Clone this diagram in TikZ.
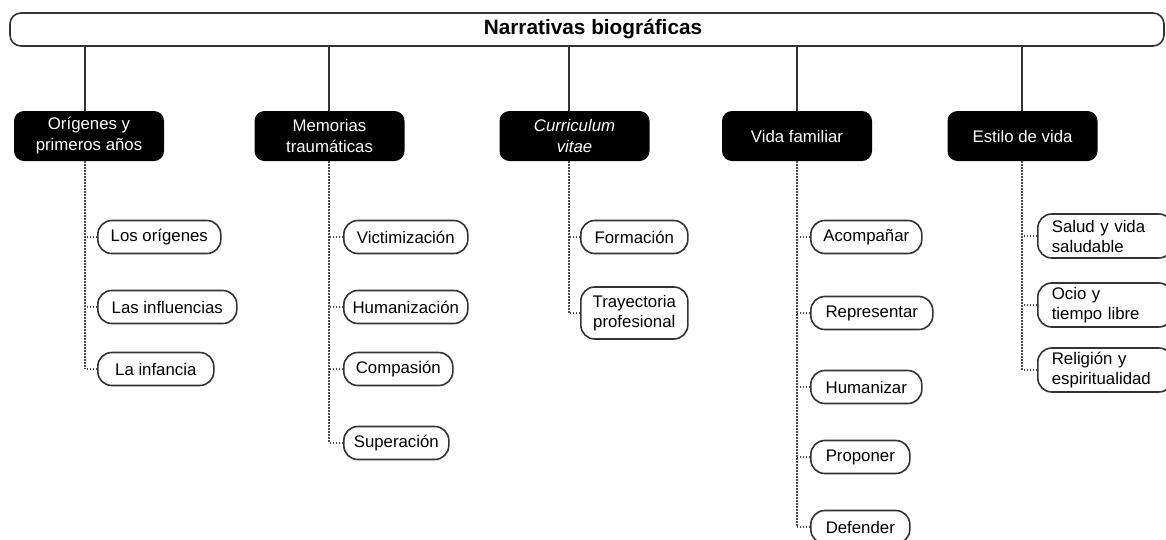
\documentclass[tikz,border=0pt]{standalone}
\usepackage{fontspec}
\setmainfont{Liberation Sans}

\begin{document}
\begin{tikzpicture}[x=1pt,y=-1pt,
  lne/.style={draw=black!80, line width=1.6pt},
  dots/.style={draw=black!70, line width=1.3pt, dash pattern=on 1.3pt off 1.7pt}]
\tikzstyle{banner}=[lne, rounded corners=11pt, minimum width=1154pt, minimum height=33pt, inner sep=0pt]
\tikzstyle{cat}=[fill=black, text=white, rounded corners=10pt, minimum width=150pt, minimum height=50pt, inner sep=2pt, align=center, font=\fontsize{16.8}{21}\selectfont]
\tikzstyle{sub}=[lne, rounded corners=14pt, align=left, anchor=west, font=\fontsize{16.8}{20}\selectfont]
\useasboundingbox (0,0) rectangle (1166,539);
\node[banner] (band) at (587,29.5){};
\node[font=\fontsize{20.8}{24}\selectfont\bfseries] (title) at (593,29.5){Narrativas biográficas};
% x of the trunk lines under each heading
\foreach \i/\x in {1/85,2/329,3/569,4/797,5/1022}{\coordinate (t\i) at (\x,0);}
\node[cat] (c1) at (89,136){Orígenes y\\primeros años};
\node[cat] (c2) at (329.5,136){Memorias\\traumáticas};
\node[cat] (c3) at (574.5,136){\textit{Curriculum}\\\textit{vitae}};
\node[cat] (c4) at (797,136){Vida familiar};
\node[cat] (c5) at (1022.5,136){Estilo de vida};
\foreach \i in {1,...,5}{\draw[lne] (band.south -| t\i) -- (c\i.north -| t\i);}
% first column
\foreach \n/\y/\w/\txt in {a1/237/123/Los orígenes,a2/307/139/Las influencias,a3/369/116/La infancia}{
  \node[sub, minimum width=\w pt, minimum height=33pt] (\n) at (97,\y){\txt};
  \draw[dots] (\n.west) -- (\n.west -| t1);}
\draw[dots] (c1.south -| t1) -- (a3.west -| t1);
% second column
\foreach \n/\y/\w/\txt in {b1/237/124/Victimización,b2/307/124/Humanización,b3/369/109/Compasión,b4/443/105/Superación}{
  \node[sub, minimum width=\w pt, minimum height=33pt] (\n) at (343,\y){\txt};
  \draw[dots] (\n.west) -- (\n.west -| t2);}
\draw[dots] (c2.south -| t2) -- (b4.west -| t2);
% third column
\foreach \n/\y/\w/\h/\txt in {d1/237/107/33/Formación,d2/313/107/52/{Trayectoria\\profesional}}{
  \node[sub, align=center, minimum width=\w pt, minimum height=\h pt] (\n) at (580,\y){\txt};
  \draw[dots] (\n.west) -- (\n.west -| t3);}
\draw[dots] (c3.south -| t3) -- (d2.west -| t3);
% fourth column
\foreach \n/\y/\w/\txt in {e1/237/111/Acompañar,e2/313/122/Representar,e3/387/111/Humanizar,e4/457/99/Proponer,e5/527/99/Defender}{
  \node[sub, minimum width=\w pt, minimum height=33pt] (\n) at (810,\y){\txt};
  \draw[dots] (\n.west) -- (\n.west -| t4);}
\draw[dots] (c4.south -| t4) -- (e5.west -| t4);
% fifth column, text set flush left
\foreach \n/\y/\txt in {f1/236/{Salud y vida\\saludable},f2/305/{Ocio y\\tiempo libre},f3/370/{Religión y\\espiritualidad}}{
  \node[sub, text width=107pt, inner xsep=14pt, minimum height=44pt] (\n) at (1037,\y){\txt};
  \draw[dots] (\n.west) -- (\n.west -| t5);}
\draw[dots] (c5.south -| t5) -- (f3.west -| t5);
\end{tikzpicture}
\end{document}
